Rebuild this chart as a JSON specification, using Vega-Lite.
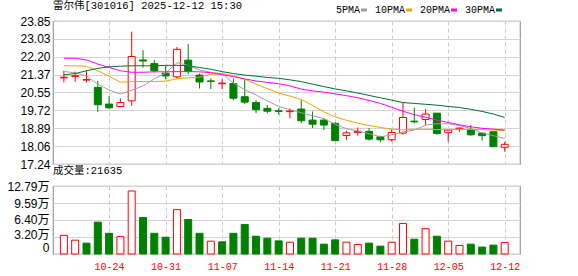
{
  "$schema": "https://vega.github.io/schema/vega-lite/v6.json",
  "background": "#ffffff",
  "padding": {"left": 6, "top": 0, "right": 4, "bottom": 2},
  "spacing": -7,
  "config": {
    "view": {"stroke": "#9a9a9a", "strokeWidth": 1.2},
    "axis": {"gridColor": "#d4d4d4", "gridWidth": 1, "domain": false, "ticks": false, "labelFont": "Liberation Sans", "labelFontSize": 12, "labelColor": "#000000", "title": null, "labelOverlap": false},
    "title": {"font": "Liberation Mono, Noto Sans CJK SC", "fontSize": 10.5, "fontWeight": "normal", "anchor": "start", "frame": "group", "color": "#000000"}
  },
  "datasets": {
    "k": [
      {"i": 0, "d": "10-20", "o": 21.22, "h": 21.55, "l": 21.01, "c": 21.25, "v": 3.52, "vu": 1, "ma5": 21.52, "ma10": 21.78, "ma20": 22.13, "ma30": 21.36},
      {"i": 1, "d": "10-21", "o": 21.29, "h": 21.51, "l": 21.04, "c": 21.32, "v": 2.60, "vu": 1, "ma5": 21.45, "ma10": 21.78, "ma20": 22.13, "ma30": 21.42},
      {"i": 2, "d": "10-22", "o": 21.12, "h": 21.54, "l": 21.01, "c": 21.14, "v": 2.04, "vu": 0, "ma5": 21.31, "ma10": 21.76, "ma20": 22.05, "ma30": 21.55},
      {"i": 3, "d": "10-23", "o": 20.78, "h": 21.08, "l": 19.65, "c": 19.98, "v": 5.99, "vu": 0, "ma5": 20.93, "ma10": 21.55, "ma20": 21.86, "ma30": 21.66},
      {"i": 4, "d": "10-24", "o": 20.01, "h": 20.39, "l": 19.78, "c": 19.84, "v": 3.89, "vu": 0, "ma5": 20.66, "ma10": 21.30, "ma20": 21.70, "ma30": 21.73},
      {"i": 5, "d": "10-27", "o": 19.90, "h": 20.27, "l": 19.90, "c": 20.08, "v": 3.27, "vu": 1, "ma5": 20.47, "ma10": 21.02, "ma20": 21.55, "ma30": 21.76},
      {"i": 6, "d": "10-28", "o": 20.16, "h": 23.36, "l": 19.93, "c": 22.21, "v": 11.86, "vu": 1, "ma5": 20.65, "ma10": 21.05, "ma20": 21.48, "ma30": 21.78},
      {"i": 7, "d": "10-29", "o": 22.05, "h": 22.50, "l": 21.70, "c": 22.00, "v": 6.86, "vu": 0, "ma5": 20.85, "ma10": 21.05, "ma20": 21.48, "ma30": 21.78},
      {"i": 8, "d": "10-30", "o": 21.88, "h": 22.04, "l": 21.47, "c": 21.55, "v": 3.89, "vu": 0, "ma5": 21.17, "ma10": 21.05, "ma20": 21.50, "ma30": 21.78},
      {"i": 9, "d": "10-31", "o": 21.44, "h": 21.78, "l": 21.16, "c": 21.31, "v": 3.15, "vu": 0, "ma5": 21.45, "ma10": 21.07, "ma20": 21.50, "ma30": 21.80},
      {"i": 10, "d": "11-03", "o": 21.27, "h": 22.65, "l": 21.19, "c": 22.54, "v": 8.34, "vu": 1, "ma5": 21.92, "ma10": 21.18, "ma20": 21.51, "ma30": 21.80},
      {"i": 11, "d": "11-04", "o": 22.04, "h": 22.78, "l": 21.39, "c": 21.51, "v": 6.49, "vu": 0, "ma5": 21.80, "ma10": 21.22, "ma20": 21.51, "ma30": 21.78},
      {"i": 12, "d": "11-05", "o": 21.35, "h": 21.42, "l": 20.73, "c": 21.03, "v": 3.89, "vu": 0, "ma5": 21.58, "ma10": 21.25, "ma20": 21.50, "ma30": 21.70},
      {"i": 13, "d": "11-06", "o": 21.08, "h": 21.19, "l": 20.70, "c": 21.06, "v": 2.41, "vu": 1, "ma5": 21.48, "ma10": 21.38, "ma20": 21.46, "ma30": 21.62},
      {"i": 14, "d": "11-07", "o": 20.95, "h": 21.16, "l": 20.70, "c": 20.98, "v": 2.29, "vu": 0, "ma5": 21.41, "ma10": 21.42, "ma20": 21.37, "ma30": 21.51},
      {"i": 15, "d": "11-10", "o": 20.96, "h": 21.19, "l": 20.19, "c": 20.28, "v": 3.89, "vu": 0, "ma5": 20.98, "ma10": 21.32, "ma20": 21.28, "ma30": 21.42},
      {"i": 16, "d": "11-11", "o": 20.35, "h": 21.16, "l": 20.00, "c": 20.10, "v": 5.56, "vu": 0, "ma5": 20.68, "ma10": 21.16, "ma20": 21.17, "ma30": 21.35},
      {"i": 17, "d": "11-12", "o": 20.08, "h": 20.19, "l": 19.59, "c": 19.75, "v": 3.34, "vu": 0, "ma5": 20.43, "ma10": 20.93, "ma20": 21.08, "ma30": 21.30},
      {"i": 18, "d": "11-13", "o": 19.81, "h": 19.96, "l": 19.58, "c": 19.68, "v": 2.97, "vu": 0, "ma5": 20.16, "ma10": 20.72, "ma20": 21.01, "ma30": 21.24},
      {"i": 19, "d": "11-14", "o": 19.70, "h": 19.82, "l": 19.52, "c": 19.67, "v": 2.47, "vu": 0, "ma5": 19.90, "ma10": 20.52, "ma20": 20.95, "ma30": 21.20},
      {"i": 20, "d": "11-17", "o": 19.66, "h": 19.81, "l": 19.35, "c": 19.69, "v": 2.22, "vu": 1, "ma5": 19.76, "ma10": 20.38, "ma20": 20.85, "ma30": 21.13},
      {"i": 21, "d": "11-18", "o": 19.78, "h": 20.19, "l": 19.13, "c": 19.24, "v": 2.97, "vu": 0, "ma5": 19.61, "ma10": 20.22, "ma20": 20.70, "ma30": 21.05},
      {"i": 22, "d": "11-19", "o": 19.27, "h": 19.67, "l": 18.90, "c": 19.08, "v": 2.97, "vu": 0, "ma5": 19.47, "ma10": 19.95, "ma20": 20.62, "ma30": 20.93},
      {"i": 23, "d": "11-20", "o": 19.27, "h": 19.36, "l": 18.81, "c": 19.04, "v": 1.85, "vu": 0, "ma5": 19.34, "ma10": 19.65, "ma20": 20.56, "ma30": 20.82},
      {"i": 24, "d": "11-21", "o": 19.12, "h": 19.16, "l": 18.32, "c": 18.32, "v": 2.66, "vu": 0, "ma5": 19.08, "ma10": 19.42, "ma20": 20.48, "ma30": 20.71},
      {"i": 25, "d": "11-24", "o": 18.56, "h": 18.78, "l": 18.36, "c": 18.68, "v": 2.22, "vu": 1, "ma5": 18.87, "ma10": 19.26, "ma20": 20.40, "ma30": 20.62},
      {"i": 26, "d": "11-25", "o": 18.70, "h": 18.93, "l": 18.55, "c": 18.75, "v": 1.79, "vu": 1, "ma5": 18.77, "ma10": 19.13, "ma20": 20.30, "ma30": 20.52},
      {"i": 27, "d": "11-26", "o": 18.75, "h": 18.90, "l": 18.32, "c": 18.39, "v": 2.04, "vu": 0, "ma5": 18.64, "ma10": 19.02, "ma20": 20.18, "ma30": 20.41},
      {"i": 28, "d": "11-27", "o": 18.50, "h": 18.55, "l": 18.24, "c": 18.36, "v": 1.48, "vu": 0, "ma5": 18.50, "ma10": 18.93, "ma20": 20.04, "ma30": 20.30},
      {"i": 29, "d": "11-28", "o": 18.36, "h": 18.85, "l": 18.27, "c": 18.70, "v": 2.22, "vu": 1, "ma5": 18.58, "ma10": 18.85, "ma20": 19.86, "ma30": 20.19},
      {"i": 30, "d": "12-01", "o": 18.67, "h": 20.08, "l": 18.59, "c": 19.39, "v": 5.75, "vu": 1, "ma5": 18.72, "ma10": 18.82, "ma20": 19.68, "ma30": 20.08},
      {"i": 31, "d": "12-02", "o": 19.22, "h": 19.85, "l": 19.12, "c": 19.19, "v": 2.78, "vu": 0, "ma5": 18.81, "ma10": 18.84, "ma20": 19.52, "ma30": 20.04},
      {"i": 32, "d": "12-03", "o": 19.30, "h": 19.78, "l": 19.04, "c": 19.55, "v": 4.76, "vu": 1, "ma5": 19.04, "ma10": 18.84, "ma20": 19.40, "ma30": 20.00},
      {"i": 33, "d": "12-04", "o": 19.59, "h": 19.59, "l": 18.59, "c": 18.65, "v": 3.34, "vu": 0, "ma5": 19.10, "ma10": 18.83, "ma20": 19.27, "ma30": 19.96},
      {"i": 34, "d": "12-05", "o": 18.69, "h": 18.85, "l": 18.27, "c": 18.81, "v": 2.41, "vu": 1, "ma5": 19.10, "ma10": 18.83, "ma20": 19.16, "ma30": 19.90},
      {"i": 35, "d": "12-08", "o": 18.86, "h": 18.93, "l": 18.73, "c": 18.90, "v": 1.61, "vu": 1, "ma5": 19.02, "ma10": 18.84, "ma20": 19.05, "ma30": 19.85},
      {"i": 36, "d": "12-09", "o": 18.82, "h": 19.04, "l": 18.55, "c": 18.59, "v": 1.85, "vu": 0, "ma5": 18.88, "ma10": 18.84, "ma20": 18.96, "ma30": 19.77},
      {"i": 37, "d": "12-10", "o": 18.67, "h": 18.67, "l": 18.32, "c": 18.55, "v": 1.30, "vu": 0, "ma5": 18.68, "ma10": 18.83, "ma20": 18.89, "ma30": 19.67},
      {"i": 38, "d": "12-11", "o": 18.73, "h": 18.73, "l": 18.04, "c": 18.04, "v": 1.67, "vu": 0, "ma5": 18.55, "ma10": 18.81, "ma20": 18.85, "ma30": 19.55},
      {"i": 39, "d": "12-12", "o": 18.01, "h": 18.27, "l": 17.81, "c": 18.15, "v": 2.16, "vu": 1, "ma5": 18.42, "ma10": 18.80, "ma20": 18.81, "ma30": 19.39}
    ]
  },
  "vconcat": [
    {
      "width": 467,
      "height": 143,
      "title": {"text": "雷尔伟[301016] 2025-12-12 15:30", "offset": 3.5},
      "data": {"name": "k"},
      "encoding": {
        "x": {"field": "i", "type": "quantitative", "scale": {"domain": [-0.52, 39.91], "nice": false, "zero": false},
          "axis": {"values": [4, 9, 14, 19, 24, 29, 34, 39], "labels": false, "gridDash": [4, 3], "gridColor": "#c8c8c8"}},
        "y": {"field": "l", "type": "quantitative", "scale": {"domain": [17.24, 23.85], "nice": false, "zero": false},
          "axis": {"values": [17.24, 18.06, 18.89, 19.72, 20.55, 21.37, 22.20, 23.03, 23.85], "format": ".2f", "labelPadding": 3, "labelOverlap": false, "labelBound": false}}
      },
      "layer": [
        {
          "mark": {"type": "rule", "strokeWidth": 1},
          "encoding": {
            "y2": {"field": "h"},
            "color": {"condition": {"test": "datum.c >= datum.o", "value": "#ff0000"}, "value": "#008000"}
          }
        },
        {
          "mark": {"type": "bar", "size": 7, "strokeWidth": 1, "orient": "vertical"},
          "encoding": {
            "y": {"field": "o", "type": "quantitative"},
            "y2": {"field": "c"},
            "fill": {"condition": {"test": "datum.c >= datum.o", "value": "#ffffff"}, "value": "#008000"},
            "stroke": {"condition": {"test": "datum.c >= datum.o", "value": "#ff0000"}, "value": "#008000"}
          }
        },
        {
          "transform": [{"fold": ["ma5", "ma10", "ma20", "ma30"], "as": ["key", "val"]}],
          "mark": {"type": "line", "strokeWidth": 1},
          "encoding": {
            "y": {"field": "val", "type": "quantitative"},
            "color": {"field": "key", "type": "nominal",
              "scale": {"domain": ["ma5", "ma10", "ma20", "ma30"], "range": ["#a0a0a0", "#f5a300", "#ff00ff", "#006f35"]},
              "legend": {"orient": "none", "legendX": 306, "legendY": -16, "direction": "horizontal", "title": null, "padding": 0,
                "labelExpr": "replace(datum.label, 'ma', '') + 'PMA'", "labelFont": "Liberation Mono", "labelFontSize": 10, "labelColor": "#000000",
                "labelAlign": "right", "labelOffset": -9, "columnPadding": 1, "symbolType": "stroke", "symbolSize": 36, "symbolStrokeWidth": 3}}
          }
        }
      ]
    },
    {
      "width": 467,
      "height": 68,
      "title": {"text": "成交量:21635", "offset": 4},
      "data": {"name": "k"},
      "mark": {"type": "bar", "size": 7, "strokeWidth": 1, "orient": "vertical"},
      "encoding": {
        "x": {"field": "i", "type": "quantitative", "scale": {"domain": [-0.52, 39.91], "nice": false, "zero": false},
          "axis": {"values": [4, 9, 14, 19, 24, 29, 34, 39], "gridDash": [4, 3], "gridColor": "#c8c8c8",
            "labelExpr": "['10-24','10-31','11-07','11-14','11-21','11-28','12-05','12-12'][(datum.value - 4) / 5]",
            "labelColor": "#ff0000", "labelFont": "Liberation Mono", "labelFontSize": 10, "labelPadding": 7, "labelFlush": false}},
        "y": {"field": "v", "type": "quantitative", "scale": {"domain": [0, 12.79], "nice": false},
          "axis": {"values": [0, 3.2, 6.4, 9.59, 12.79], "labelExpr": "datum.value == 0 ? '0' : format(datum.value, '.2f') + '万'",
            "labelFont": "Liberation Sans, Noto Sans CJK SC", "labelPadding": 4, "labelOverlap": false,
            "labelBaseline": {"condition": {"test": "datum.value == 0", "value": "bottom"}, "value": "middle"},
            "labelOffset": {"condition": {"test": "datum.value == 3.2", "value": -2}, "value": 0}}},
        "fill": {"condition": {"test": "datum.vu == 1", "value": "#ffffff"}, "value": "#008000"},
        "stroke": {"condition": {"test": "datum.vu == 1", "value": "#ff0000"}, "value": "#008000"}
      }
    }
  ]
}
